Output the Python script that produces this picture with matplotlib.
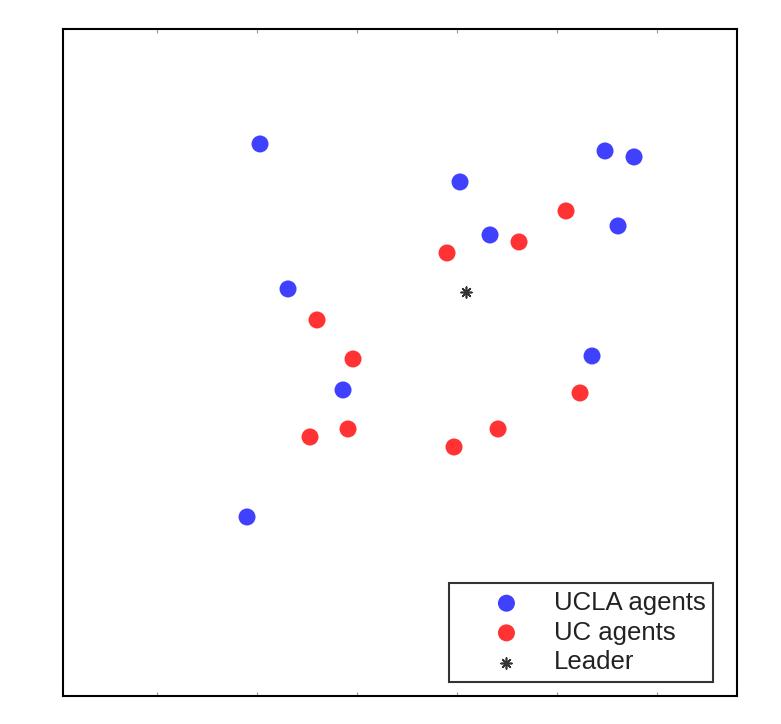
import matplotlib.pyplot as plt
import numpy as np

plt.rcParams['font.family'] = ['Liberation Sans', 'DejaVu Sans']

# positions (arbitrary units)
ucla_x = [197, 225, 280, 184, 397, 427, 542, 571, 555, 529]
ucla_y = [552, 407, 306, 179, 514, 461, 545, 539, 470, 340]
uc_x = [254, 290, 247, 285, 384, 456, 503, 517, 391, 435]
uc_y = [376, 337, 259, 267, 443, 454, 485, 303, 249, 267]
leader_x = [403]
leader_y = [404]

fig = plt.figure(figsize=(7.81, 7.24), dpi=100)
ax = fig.add_axes([0.0807, 0.0387, 0.863, 0.9213])

ax.scatter(ucla_x, ucla_y, s=150, color='#4040ff', edgecolors='none', label='UCLA agents')
ax.scatter(uc_x, uc_y, s=150, color='#ff3333', edgecolors='none', label='UC agents')
ax.scatter(leader_x, leader_y, s=60, marker=(8, 2, 0), color='#333333', linewidths=1.2, label='Leader')

ax.set_xlim(0, 674)
ax.set_ylim(0, 667)
ax.set_xticks(np.arange(94, 674, 100))
ax.set_yticks([])
ax.tick_params(axis='x', direction='in', length=3, labelbottom=False, top=True, color='#999999')
for s in ax.spines.values():
    s.set_linewidth(1.5)

leg = ax.legend(loc='lower right', fontsize=18.5, frameon=True, fancybox=False,
                borderpad=0.3, handlelength=3.9, handletextpad=-0.1, labelspacing=0.22,
                bbox_to_anchor=(0.965, 0.021), borderaxespad=0)
leg.get_frame().set_edgecolor('black')
leg.get_frame().set_linewidth(1.5)
for t in leg.get_texts():
    t.set_color('#222222')

plt.savefig('out.png', dpi=100)
